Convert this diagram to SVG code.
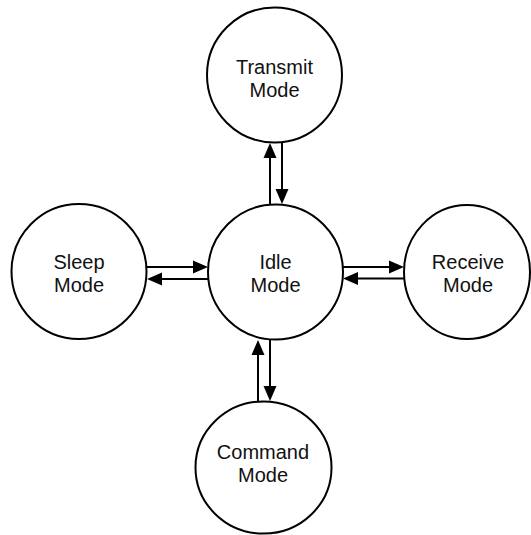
<svg xmlns="http://www.w3.org/2000/svg" width="531" height="535" viewBox="0 0 531 535">
  <style>
    .state { fill: #ffffff; stroke: #000000; stroke-width: 2; }
    .label { font-family: "Liberation Sans", Arial, sans-serif; font-size: 20px; fill: #111111; text-anchor: middle; }
    .link { fill: none; stroke: #000000; stroke-width: 2; marker-end: url(#head); }
  </style>
  <defs>
    <!-- solid block arrowhead; line ends 4px short of the tip -->
    <marker id="head" markerUnits="userSpaceOnUse" markerWidth="15" markerHeight="13" refX="11" refY="6.5" orient="auto" overflow="visible">
      <path d="M0,0 L15,6.5 L0,13 Z" fill="#000000"/>
    </marker>
  </defs>
  <rect x="0" y="0" width="531" height="535" fill="#ffffff"/>

  <g id="connectors">
    <!-- Idle <-> Transmit -->
    <line class="link" x1="270" y1="205" x2="270" y2="147"/>
    <line class="link" x1="282" y1="142" x2="282" y2="200"/>
    <!-- Sleep <-> Idle -->
    <line class="link" x1="146.5" y1="267" x2="204" y2="267"/>
    <line class="link" x1="208" y1="279" x2="151" y2="279"/>
    <!-- Idle <-> Receive -->
    <line class="link" x1="343" y1="267" x2="400" y2="267"/>
    <line class="link" x1="404" y1="278.5" x2="347" y2="278.5"/>
    <!-- Command <-> Idle -->
    <line class="link" x1="258" y1="401" x2="258" y2="344"/>
    <line class="link" x1="270" y1="339" x2="270" y2="397"/>
  </g>

  <g id="transmit">
    <circle class="state" cx="274.5" cy="75" r="67.5"/>
    <text class="label" x="274.5" y="73.5">Transmit</text>
    <text class="label" x="274.5" y="96.5">Mode</text>
  </g>

  <g id="idle">
    <circle class="state" cx="275.5" cy="272" r="67.5"/>
    <text class="label" x="275.5" y="269">Idle</text>
    <text class="label" x="275.5" y="292">Mode</text>
  </g>

  <g id="sleep">
    <circle class="state" cx="79" cy="271.5" r="67.5"/>
    <text class="label" x="79" y="269">Sleep</text>
    <text class="label" x="79" y="292">Mode</text>
  </g>

  <g id="receive">
    <ellipse class="state" cx="467" cy="272" rx="63" ry="67"/>
    <text class="label" x="468" y="269">Receive</text>
    <text class="label" x="468" y="292">Mode</text>
  </g>

  <g id="command">
    <ellipse class="state" cx="263.5" cy="467.5" rx="68" ry="66"/>
    <text class="label" x="263" y="459">Command</text>
    <text class="label" x="263" y="482">Mode</text>
  </g>
</svg>
